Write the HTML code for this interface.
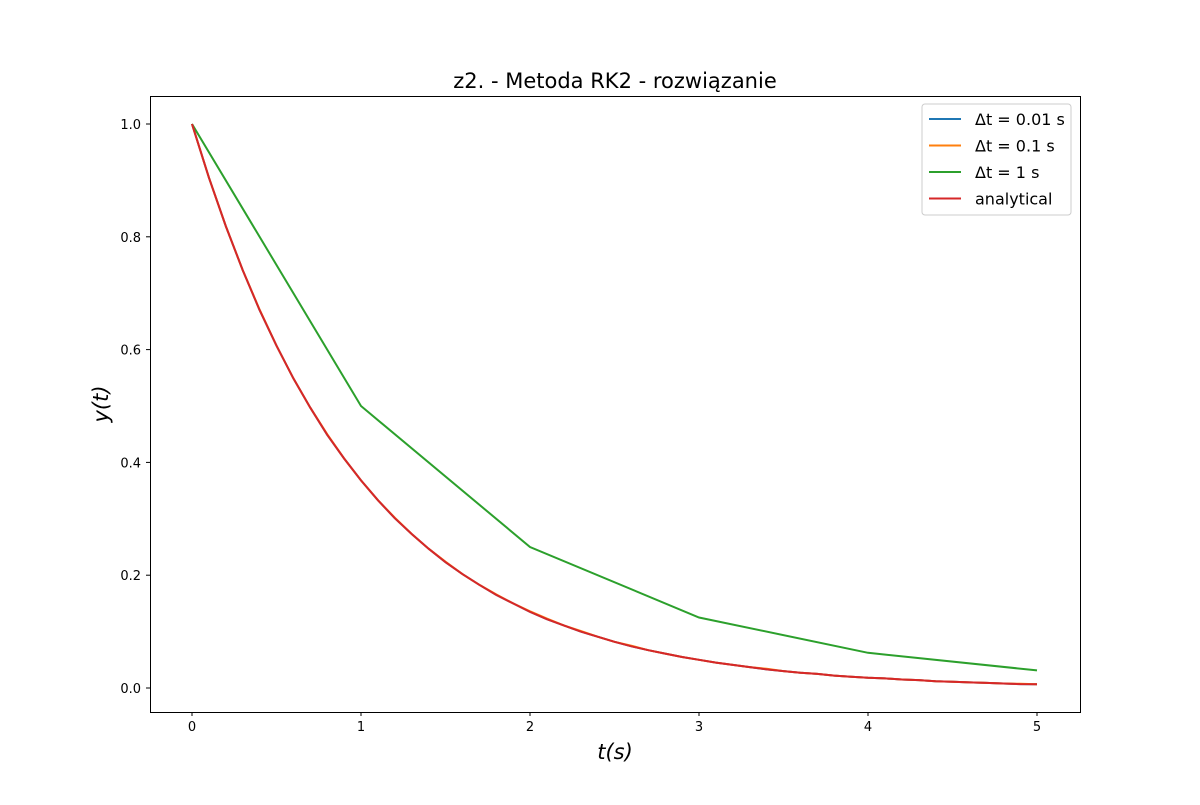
<!DOCTYPE html>
<html><head><meta charset="utf-8"><style>
body{margin:0;background:#fff}
svg text{font-family:"DejaVu Sans","Liberation Sans",sans-serif}
</style></head><body>
<svg id="chart" width="1200" height="800">
<rect width="1200" height="800" fill="#fff"/>
<g id="plot"></g>
<text x="615" y="88" font-size="21" text-anchor="middle">z2. - Metoda RK2 - rozwiązanie</text>
<text x="615" y="759" font-size="21" font-style="italic" text-anchor="middle">t(s)</text>
<text transform="translate(108,404) rotate(-90)" font-size="21" font-style="italic" text-anchor="middle">y(t)</text>
</svg>
<script>
const tSteps1 = [0,1,2,3,4,5];
const ySteps1 = [1,0.5,0.25,0.125,0.0625,0.03125];
const tFine = [0,0.1,0.2,0.3,0.4,0.5,0.6,0.7,0.8,0.9,1,1.1,1.2,1.3,1.4,1.5,1.6,1.7,1.8,1.9,2,2.1,2.2,2.3,2.4,2.5,2.6,2.7,2.8,2.9,3,3.1,3.2,3.3,3.4,3.5,3.6,3.7,3.8,3.9,4,4.1,4.2,4.3,4.4,4.5,4.6,4.7,4.8,4.9,5];
const yAnalytical = [1,0.905,0.819,0.741,0.670,0.607,0.549,0.497,0.449,0.407,0.368,0.333,0.301,0.273,0.247,0.223,0.202,0.183,0.165,0.150,0.135,0.122,0.111,0.100,0.091,0.082,0.074,0.067,0.061,0.055,0.050,0.045,0.041,0.037,0.033,0.030,0.027,0.025,0.022,0.020,0.018,0.017,0.015,0.014,0.012,0.011,0.010,0.009,0.008,0.007,0.0067];
const ySteps01 = [1,0.905,0.819,0.741,0.671,0.607,0.549,0.497,0.450,0.407,0.368,0.333,0.302,0.273,0.247,0.224,0.202,0.183,0.166,0.150,0.136,0.123,0.111,0.101,0.091,0.082,0.075,0.067,0.061,0.055,0.050,0.045,0.041,0.037,0.034,0.030,0.027,0.025,0.022,0.020,0.018,0.017,0.015,0.014,0.012,0.011,0.010,0.009,0.008,0.0075,0.0068];
const ySteps001 = yAnalytical;
const xTicks = [0,1,2,3,4,5];
const yTicks = [0,0.2,0.4,0.6,0.8,1.0];
const legendLabels = ["Δt = 0.01 s","Δt = 0.1 s","Δt = 1 s","analytical"];

const X = v => 192 + v*169;
const Y = v => 688 - v*564;
const NS = "http://www.w3.org/2000/svg";
const g = document.getElementById('plot');
function mk(tag, attrs, parent){const e=document.createElementNS(NS,tag);for(const k in attrs)e.setAttribute(k,attrs[k]);(parent||g).appendChild(e);return e;}

const frame = mk('rect',{x:150.5,y:96.5,width:930,height:616,fill:'none',stroke:'#000','stroke-width':1});



xTicks.forEach(v=>{
  const l=mk('line',{x1:X(v),x2:X(v),y1:712,y2:716,stroke:'#000'});
  
  
  const t=mk('text',{x:X(v),y:731,'font-size':13,'text-anchor':'middle'});t.textContent=v;
  
  
});
yTicks.forEach(v=>{
  const l=mk('line',{x1:146,x2:150,y1:Y(v),y2:Y(v),stroke:'#000'});
  
  
  const t=mk('text',{x:141,y:Y(v)+5,'font-size':13,'text-anchor':'end'});t.textContent=v.toFixed(1);
  
  
});

const series=[
  [tFine,ySteps001,'#1f77b4','series-dt-0.01'],
  [tFine,ySteps01,'#ff7f0e','series-dt-0.1'],
  [tSteps1,ySteps1,'#2ca02c','series-dt-1'],
  [tFine,yAnalytical,'#d62728','series-analytical']
];
series.forEach(s=>{
  const d=s[0].map((t,i)=>(i?'L':'M')+X(t).toFixed(1)+','+Y(s[1][i]).toFixed(1)).join('');
  const p=mk('path',{d:d,fill:'none',stroke:s[2],'stroke-width':2});
  
  
});

const lg=mk('rect',{x:922,y:104,width:149,height:111,rx:3,fill:'#fff','fill-opacity':0.8,stroke:'#ccc'});


legendLabels.forEach((lab,i)=>{
  const y=119+i*26.5;
  const l=mk('line',{x1:929,x2:961,y1:y,y2:y,stroke:series[i][2],'stroke-width':2});
  
  
  const t=mk('text',{x:975,y:y+6,'font-size':16});t.textContent=lab;
  
  
});
</script>
</body></html>
